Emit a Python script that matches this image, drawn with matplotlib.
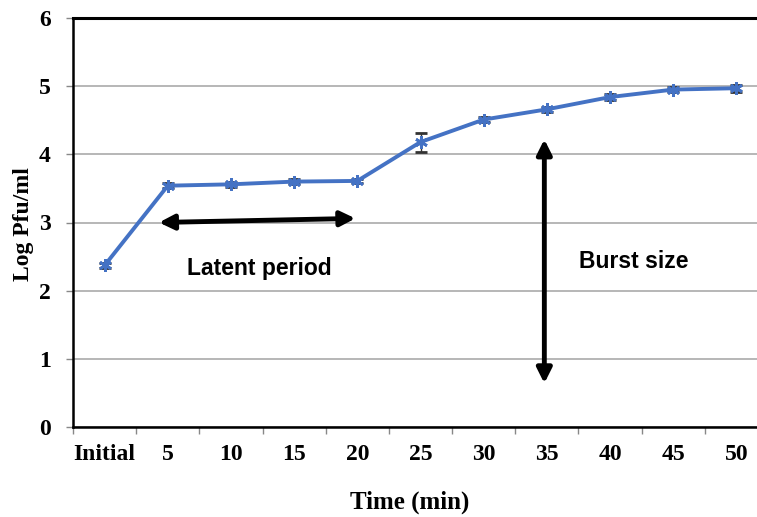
import matplotlib.pyplot as plt

# one-step growth curve data
times = ['Initial', '5', '10', '15', '20', '25', '30', '35', '40', '45', '50']
log_pfu = [2.37, 3.54, 3.56, 3.60, 3.61, 4.18, 4.51, 4.66, 4.84, 4.95, 4.97]
err = [0.04, 0.04, 0.04, 0.04, 0.03, 0.14, 0.04, 0.04, 0.04, 0.04, 0.05]

fig = plt.figure(figsize=(7.57, 5.17), dpi=100)
ax = fig.add_axes([73 / 757, 1 - 427 / 517, 695 / 757, 409 / 517])

x = list(range(len(times)))
ax.errorbar(x, log_pfu, yerr=err, color='#4472C4', lw=2.8, marker=(6, 2, 0),
            ms=9, mew=2, ecolor='#333333', elinewidth=1, capsize=4, capthick=1,
            zorder=3)

ax.set_xlim(-0.5, len(times) - 0.5)
ax.set_ylim(0, 6)
ax.set_yticks(range(7))
ax.set_xticks([i - 0.5 for i in range(len(times))], minor=False)
ax.set_xticklabels([])
ax.set_xticks(x, minor=True)
ax.set_xticklabels(times, minor=True)
ax.tick_params(axis='x', which='minor', length=0, pad=12)
ax.tick_params(axis='x', which='major', length=5, color='#888888', width=1)
ax.tick_params(axis='y', length=5, color='#888888', width=1, pad=11)
for lab in ax.get_xticklabels(minor=True) + ax.get_yticklabels():
    lab.set_fontfamily('Liberation Serif')
    lab.set_fontweight('bold')
    lab.set_fontsize(17)

ax.grid(axis='y', color='#AAAAAA', lw=1.2)
ax.set_axisbelow(True)
for s in ['left', 'bottom']:
    ax.spines[s].set_linewidth(1.8)
ax.spines['top'].set_linewidth(2.2)
ax.spines['right'].set_visible(False)

ax.set_ylabel('Log Pfu/ml', fontfamily='Liberation Serif', fontweight='bold',
              fontsize=17)
ax.yaxis.set_label_coords((34 - 73) / 695, (427 - 224) / 409)
ax.set_xlabel('Time (min)', fontfamily='Liberation Serif', fontweight='bold',
              fontsize=18)
ax.xaxis.set_label_coords((410 - 73) / 695, (427 - 491) / 409)

# annotations
ax.annotate('', xy=(0.86, 3.0), xytext=(3.97, 3.06),
            arrowprops=dict(arrowstyle='<|-|>', color='black', lw=3.5,
                            mutation_scale=22, shrinkA=0, shrinkB=0))
ax.annotate('', xy=(6.96, 4.22), xytext=(6.96, 0.64),
            arrowprops=dict(arrowstyle='<|-|>', color='black', lw=3.5,
                            mutation_scale=22, shrinkA=0, shrinkB=0))
ax.text(2.45, 2.33, 'Latent period', fontfamily='Liberation Sans',
        fontweight='bold', fontsize=16.5, ha='center', va='center')
ax.text(8.37, 2.43, 'Burst size', fontfamily='Liberation Sans',
        fontweight='bold', fontsize=16.5, ha='center', va='center')

plt.savefig('out.png', dpi=100)
